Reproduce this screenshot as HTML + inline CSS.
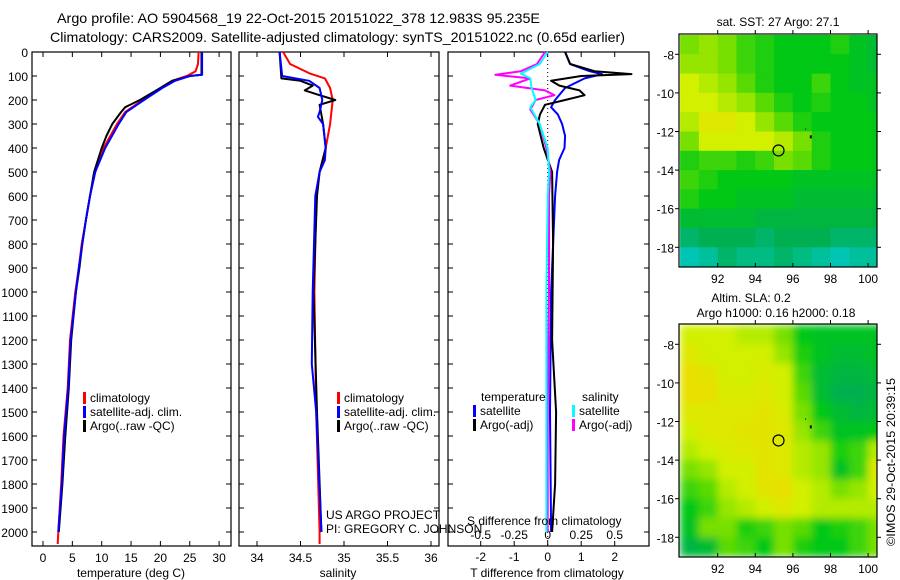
<!DOCTYPE html>
<html><head><meta charset="utf-8"><style>
html,body{margin:0;padding:0;background:#fff;}
svg{display:block;font-family:"Liberation Sans",sans-serif;}
text{fill:#000;}
</style></head><body>
<svg id="fig" width="900" height="580" viewBox="0 0 900 580" xmlns="http://www.w3.org/2000/svg">
<defs><filter id="smooth" x="-5%" y="-5%" width="110%" height="110%"><feGaussianBlur stdDeviation="4" edgeMode="duplicate"/></filter></defs>
<text x="57" y="23" font-size="14" textLength="483" lengthAdjust="spacingAndGlyphs">Argo profile: AO 5904568_19 22-Oct-2015 20151022_378 12.983S 95.235E</text>
<text x="50" y="42" font-size="14" textLength="575" lengthAdjust="spacingAndGlyphs">Climatology: CARS2009. Satellite-adjusted climatology: synTS_20151022.nc (0.65d earlier)</text>
<g id="layer"></g>
<text transform="translate(895,546) rotate(-90)" font-size="12" textLength="168" lengthAdjust="spacingAndGlyphs">©IMOS 29-Oct-2015 20:39:15</text>
</svg>
<script>
// ---------- data ----------
const depthTicks = [0,100,200,300,400,500,600,700,800,900,1000,1100,1200,1300,1400,1500,1600,1700,1800,1900,2000];
const tempTicks = [0,5,10,15,20,25,30];
const salTicks = [34,34.5,35,35.5,36];
const tdiffTicks = [-2,-1,0,1,2];
const sdiffTicks = [-0.5,-0.25,0,0.25,0.5];
const sdiffTickLabels = ["-0.5","-0.25","0","0.25","0.5"];

const tClimDepth = [0,50,80,100,120,150,200,250,300,400,500,600,700,800,900,1000,1200,1400,1600,1800,2000,2050];
const tClim =      [26.5,26.4,26,24.5,22,20,17,14,12.6,10.3,8.9,8,7.3,6.6,6.1,5.5,4.6,4.2,3.5,3.1,2.6,2.5];
const tSatDepth = [0,50,95,100,120,150,200,250,300,400,500,600,700,800,900,1000,1200,1400,1600,1800,2000];
const tSat =      [27.1,27.1,27.1,25,22.5,20.3,17.2,14.2,12.9,10.6,8.9,8,7.3,6.7,6.1,5.6,4.7,4.3,3.6,3.2,2.6];
const tArgoDepth = [0,50,95,100,120,150,200,230,250,300,350,400,500,600,700,800,900,1000,1200,1400,1600,1800,2000];
const tArgo =      [27,27,27,25,22,20,16.5,14,13.3,11.8,10.8,10,8.7,8,7.3,6.7,6.2,5.6,4.8,4.4,3.8,3.3,2.7];

const sClimDepth = [0,50,90,110,150,200,300,400,500,600,1000,1500,2000,2050];
const sClim =      [34.3,34.38,34.61,34.78,34.84,34.87,34.84,34.79,34.72,34.68,34.66,34.68,34.72,34.72];
const sSatDepth = [0,100,120,150,200,250,270,300,400,450,500,600,1000,1300,1500,2000];
const sSat =      [34.26,34.29,34.6,34.72,34.75,34.72,34.7,34.76,34.79,34.78,34.72,34.67,34.64,34.63,34.68,34.74];
const sArgoDepth = [0,110,120,140,160,180,200,220,300,400,500,600,1000,1500,2000];
const sArgo =      [34.26,34.28,34.5,34.64,34.55,34.72,34.9,34.72,34.76,34.79,34.72,34.69,34.65,34.69,34.74];

const dTSatDepth = [0,50,80,92,110,150,200,230,260,300,350,400,450,500,600,1000,1500,2000];
const dTSat =      [0.52,0.67,1.25,1.62,1.1,0.52,0.22,0.1,0.3,0.43,0.52,0.5,0.34,0.28,0.22,0.1,0.07,0.1];
const dTArgoDepth = [0,50,80,92,100,120,140,160,180,200,220,260,300,400,500,800,1200,1500,1800,2000];
const dTArgo =      [0.52,0.67,1.4,2.5,1.0,0.1,0.35,0.95,1.1,0.52,-0.08,-0.23,-0.3,-0.12,0.13,0.16,0.13,0.25,0.22,0.13];
const dSArgoDepth = [0,50,80,95,110,140,160,180,200,240,300,400,500,600,1000,1500,2000];
const dSArgo =      [-0.02,-0.08,-0.2,-0.39,-0.13,-0.28,-0.02,0.05,-0.09,-0.13,-0.06,-0.01,0.02,0.01,0.01,0,0];
const dSSatDepth = [0,50,90,110,150,200,230,300,400,500,600,1000,2000];
const dSSat =      [0,-0.06,-0.2,-0.13,-0.12,-0.09,-0.13,-0.06,0,0.01,0,-0.01,-0.01];

const sstGrid = [
[0.7,0.75,0.7,0.6,0.55,0.5,0.5,0.5,0.55,0.45,0.4],
[0.75,0.75,0.7,0.6,0.55,0.5,0.5,0.5,0.5,0.45,0.4],
[0.85,0.8,0.75,0.65,0.55,0.5,0.5,0.6,0.5,0.45,0.45],
[0.85,0.85,0.8,0.75,0.65,0.55,0.5,0.55,0.5,0.5,0.45],
[0.8,0.9,0.9,0.85,0.75,0.65,0.55,0.5,0.5,0.5,0.5],
[0.7,0.85,0.85,0.85,0.85,0.8,0.7,0.55,0.5,0.5,0.5],
[0.55,0.6,0.6,0.55,0.6,0.7,0.65,0.55,0.5,0.5,0.5],
[0.6,0.55,0.5,0.5,0.5,0.5,0.45,0.45,0.45,0.45,0.45],
[0.55,0.5,0.5,0.45,0.45,0.45,0.4,0.4,0.4,0.4,0.4],
[0.4,0.4,0.4,0.4,0.35,0.35,0.35,0.35,0.35,0.35,0.35],
[0.25,0.3,0.3,0.3,0.25,0.3,0.3,0.3,0.25,0.25,0.25],
[0.1,0.15,0.25,0.2,0.2,0.25,0.2,0.15,0.1,0.15,0.15]];
const slaGrid = [
[0.85,0.85,0.85,0.8,0.8,0.7,0.5,0.45,0.45,0.45,0.45],
[0.9,0.85,0.85,0.85,0.85,0.75,0.55,0.45,0.4,0.4,0.45],
[0.95,0.92,0.85,0.85,0.88,0.85,0.6,0.4,0.35,0.35,0.4],
[0.95,0.95,0.88,0.88,0.9,0.85,0.65,0.4,0.3,0.3,0.35],
[0.9,0.9,0.9,0.9,0.92,0.88,0.7,0.5,0.4,0.35,0.4],
[0.85,0.9,0.9,0.92,0.92,0.9,0.75,0.6,0.45,0.45,0.5],
[0.8,0.85,0.88,0.9,0.92,0.9,0.8,0.75,0.55,0.6,0.8],
[0.7,0.75,0.85,0.85,0.92,0.9,0.8,0.75,0.45,0.6,0.9],
[0.6,0.65,0.8,0.85,0.92,0.95,0.85,0.8,0.7,0.75,0.85],
[0.5,0.6,0.75,0.8,0.85,0.9,0.85,0.8,0.8,0.8,0.8],
[0.45,0.7,0.7,0.55,0.6,0.7,0.65,0.5,0.55,0.6,0.7],
[0.35,0.4,0.65,0.6,0.5,0.7,0.55,0.5,0.5,0.6,0.7]];
const lonTicks = [92,94,96,98,100];
const latTicks = [-8,-10,-12,-14,-16,-18];
const argoLon = 95.235, argoLat = -12.983;

// ---------- helpers ----------
const NS = "http://www.w3.org/2000/svg";
const layer = document.getElementById('layer');
function mk(tag, attrs, parent){ const e=document.createElementNS(NS,tag); for(const k in attrs) e.setAttribute(k,attrs[k]); (parent||layer).appendChild(e); return e; }
function txt(s, x, y, anchor, size, name){ const t=mk('text',{x:x,y:y,'text-anchor':anchor||'start','font-size':size||12}); t.textContent=s;
  
  
  return t; }

const TOP=52, BOT=546;
const yD = d => TOP + d*0.24;

function panelFrame(x0,x1,name){
  const r = mk('rect',{x:x0,y:TOP,width:x1-x0,height:BOT-TOP,fill:'none',stroke:'#000','stroke-width':1.2});
  
  
  depthTicks.forEach(d=>{ mk('line',{x1:x0,x2:x0+5,y1:yD(d),y2:yD(d),stroke:'#000'}); mk('line',{x1:x1-5,x2:x1,y1:yD(d),y2:yD(d),stroke:'#000'}); });
}
function xTicks(x0,x1,ticks,fx,labels,ly,name){
  ticks.forEach((v,i)=>{ const x=fx(v); mk('line',{x1:x,x2:x,y1:TOP,y2:TOP+5,stroke:'#000'}); mk('line',{x1:x,x2:x,y1:BOT-5,y2:BOT,stroke:'#000'});
    if(labels) txt(labels[i],x,ly,'middle',12,name); });
}
function curve(depths, vals, fx, color, name, w){
  const pts = depths.map((d,i)=>fx(vals[i]).toFixed(1)+','+yD(d).toFixed(1)).join(' ');
  const p = mk('polyline',{points:pts,fill:'none',stroke:color,'stroke-width':w||2,'stroke-linejoin':'round'});
  
  
}
function legend(x,y,color,label,name){
  mk('rect',{x:x,y:y-10,width:3,height:12,fill:color});
  txt(label,x+7,y,'start',12,name);
}

// ---------- panel 1 ----------
const fT = v => 43 + v*5.87;
panelFrame(32,231,'temperature-panel');
depthTicks.forEach(d=>txt(String(d),28,yD(d)+5,'end',12,'depth-tick-label'));
xTicks(32,231,tempTicks,fT,tempTicks.map(String),562,'temperature-tick-label');
txt('temperature (deg C)',131,577,'middle',12,'temperature-axis-title');
curve(tClimDepth,tClim,fT,'#ff0000','temp-climatology-line');
curve(tArgoDepth,tArgo,fT,'#000000','temp-argo-line');
curve(tSatDepth,tSat,fT,'#0000ff','temp-satellite-line');
legend(83,402,'#ff0000','climatology','legend-climatology');
legend(83,416,'#0000ff','satellite-adj. clim.','legend-satellite');
legend(83,430,'#000000','Argo(..raw -QC)','legend-argo');

// ---------- panel 2 ----------
const fS = v => 257 + (v-34)*87;
panelFrame(239,439,'salinity-panel');
xTicks(239,439,salTicks,fS,salTicks.map(String),562,'salinity-tick-label');
txt('salinity',338,577,'middle',12,'salinity-axis-title');
curve(sClimDepth,sClim,fS,'#ff0000','sal-climatology-line');
curve(sArgoDepth,sArgo,fS,'#000000','sal-argo-line');
curve(sSatDepth,sSat,fS,'#0000ff','sal-satellite-line');
legend(337,402,'#ff0000','climatology','legend-climatology-2');
legend(337,416,'#0000ff','satellite-adj. clim.','legend-satellite-2');
legend(337,430,'#000000','Argo(..raw -QC)','legend-argo-2');
txt('US ARGO PROJECT',326,519,'start',12,'project-label');
txt('PI: GREGORY C. JOHNSON',326,533,'start',12,'pi-label');

// ---------- panel 3 ----------
const fdT = v => 547.7 + v*33.5;
const fdS = v => 547.7 + v*134;
panelFrame(448,649,'difference-panel');
xTicks(448,649,tdiffTicks,fdT,tdiffTicks.map(String),561,'tdiff-tick-label');
sdiffTicks.forEach((v,i)=>txt(sdiffTickLabels[i],fdS(v),539,'middle',12,'sdiff-tick-label'));
mk('line',{x1:fdT(0),x2:fdT(0),y1:TOP,y2:BOT,stroke:'#000','stroke-dasharray':'1,3'});
curve(dTSatDepth,dTSat,fdT,'#0000ff','tdiff-satellite-line');
curve(dTArgoDepth,dTArgo,fdT,'#000000','tdiff-argo-line');
curve(dSArgoDepth,dSArgo,fdS,'#ff00ff','sdiff-argo-line');
curve(dSSatDepth,dSSat,fdS,'#00ffff','sdiff-satellite-line');
txt('S difference from climatology',467,525,'start',12,'sdiff-axis-title');
txt('T difference from climatology',547,577,'middle',12,'tdiff-axis-title');
txt('temperature',481,401,'start',12,'legend-temperature-header');
txt('salinity',582,401,'start',12,'legend-salinity-header');
legend(473,415,'#0000ff','satellite','legend-t-satellite');
legend(473,429,'#000000','Argo(-adj)','legend-t-argo');
legend(572,415,'#00ffff','satellite','legend-s-satellite');
legend(572,429,'#ff00ff','Argo(-adj)','legend-s-argo');

// ---------- maps ----------
const stops = [[0,[0,208,230]],[0.3,[0,176,80]],[0.5,[0,200,20]],[0.7,[120,224,0]],[0.85,[210,240,0]],[1,[245,215,0]]];
function cmap(v){ for(let i=1;i<stops.length;i++){ if(v<=stops[i][0]){ const a=stops[i-1],b=stops[i],t=(v-a[0])/(b[0]-a[0]);
  return 'rgb('+a[1].map((c,k)=>Math.round(c+(b[1][k]-c)*t)).join(',')+')'; } } return 'rgb(245,215,0)'; }
const MX0=679, MX1=877;
const fLon = v => 717.7 + (v-92)*18.8;
function drawMap(top,grid,name,smooth){
  const bot = top+233;
  const fLat = v => top + 20.3 + (-8 - v)*19.3;
  const cid='clip-'+name;
  const cp = mk('clipPath',{id:cid}); mk('rect',{x:MX0,y:top,width:MX1-MX0,height:bot-top},cp);
  const outer = mk('g',{'clip-path':'url(#'+cid+')'});
  const g = mk('g',smooth?{filter:'url(#smooth)'}:{},outer);
  
  
  grid.forEach((row,r)=>row.forEach((v,c)=>{
    const x=fLon(90+c), y=fLat(-7-r);
    mk('rect',{x:x.toFixed(1),y:y.toFixed(1),width:19.3,height:19.8,fill:cmap(v)},g);
  }));
  const fr = mk('rect',{x:MX0,y:top,width:MX1-MX0,height:bot-top,fill:'none',stroke:'#000','stroke-width':1.2});
  
  
  lonTicks.forEach(v=>{ const x=fLon(v); mk('line',{x1:x,x2:x,y1:top,y2:top-4,stroke:'#000'}); mk('line',{x1:x,x2:x,y1:bot,y2:bot-4,stroke:'#000'}); txt(String(v),x,bot+16,'middle',12,'lon-tick-label'); });
  latTicks.forEach(v=>{ const y=fLat(v); mk('line',{x1:MX0-4,x2:MX0,y1:y,y2:y,stroke:'#000'}); mk('line',{x1:MX1,x2:MX1+4,y1:y,y2:y,stroke:'#000'}); txt(String(v),674,y+5,'end',12,'lat-tick-label'); });
  const c = mk('circle',{cx:fLon(argoLon),cy:fLat(argoLat),r:5.5,fill:'none',stroke:'#000','stroke-width':1.2});
  
  
  mk('rect',{x:fLon(96.9),y:fLat(-12.2),width:2,height:3,fill:'#000'});
  mk('rect',{x:fLon(96.65),y:fLat(-11.85),width:1,height:1,fill:'#000'});
}
drawMap(34,sstGrid,'sst-map',false);
drawMap(324,slaGrid,'sla-map',true);
txt('sat. SST: 27 Argo: 27.1',778,26,'middle',12,'sst-map-title');
txt('Altim. SLA: 0.2',751,302,'middle',12,'sla-map-title');
txt('Argo h1000: 0.16 h2000: 0.18',776,317,'middle',12,'sla-map-subtitle');
</script>
</body></html>
